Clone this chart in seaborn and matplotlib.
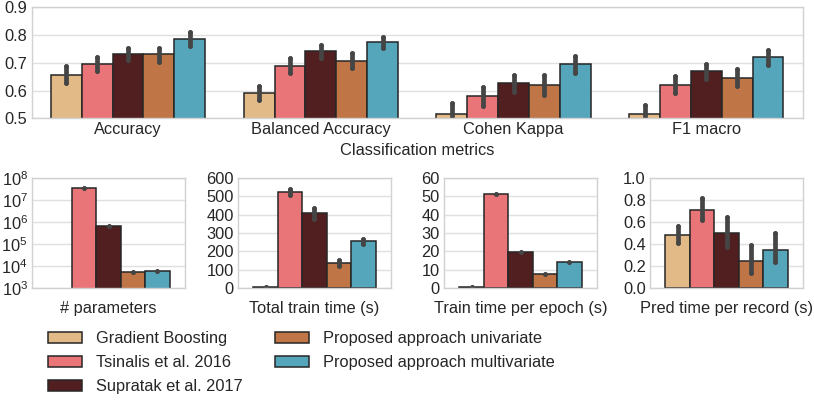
import numpy as np
import pandas as pd
import matplotlib
matplotlib.use("Agg")
import matplotlib.pyplot as plt
import seaborn as sns

# ---------------- data ----------------
models = ["Gradient Boosting", "Tsinalis et al. 2016", "Supratak et al. 2017",
          "Proposed approach univariate", "Proposed approach multivariate"]
colors = ["#e2ba88", "#ea7579", "#521f20", "#c07547", "#55a5bb"]

clf_metrics = ["Accuracy", "Balanced Accuracy", "Cohen Kappa", "F1 macro"]
# rows: metric, columns: model
clf_mean = [[0.655, 0.697, 0.732, 0.731, 0.786],
            [0.591, 0.690, 0.741, 0.708, 0.775],
            [0.517, 0.579, 0.627, 0.620, 0.696],
            [0.517, 0.620, 0.671, 0.647, 0.720]]
clf_lo = [[0.626, 0.672, 0.710, 0.704, 0.762],
          [0.566, 0.662, 0.719, 0.680, 0.752],
          [0.480, 0.544, 0.594, 0.584, 0.662],
          [0.490, 0.590, 0.642, 0.617, 0.691]]
clf_hi = [[0.689, 0.722, 0.752, 0.755, 0.810],
          [0.617, 0.716, 0.764, 0.734, 0.794],
          [0.556, 0.612, 0.656, 0.656, 0.726],
          [0.548, 0.653, 0.695, 0.677, 0.746]]

cost_metrics = ["# parameters", "Total train time (s)",
                "Train time per epoch (s)", "Pred time per record (s)"]
n_params = [np.nan, 3.4e7, 6.6e5, 5.1e3, 5.7e3]
train_mean = [7, 524, 407, 137, 257]
train_lo = [7, 508, 376, 120, 241]
train_hi = [7, 540, 435, 154, 269]
epoch_mean = [0.3, 51.3, 19.5, 7.6, 14.3]
pred_mean = [0.482, 0.708, 0.497, 0.250, 0.349]
pred_lo = [0.413, 0.614, 0.377, 0.136, 0.232]
pred_hi = [0.563, 0.819, 0.648, 0.389, 0.497]

cost_yticks = [[1e3, 1e4, 1e5, 1e6, 1e7, 1e8],
               [0, 100, 200, 300, 400, 500, 600],
               [0, 10, 20, 30, 40, 50, 60],
               [0.0, 0.2, 0.4, 0.6, 0.8, 1.0]]


def long_df(cats, mean, lo, hi):
    rows = []
    for c, m, l, h in zip(cats, mean, lo, hi):
        for model, mv, lv, hv in zip(models, m, l, h):
            for v in (lv, mv, hv):
                rows.append({"metric": c, "model": model, "value": v})
    return pd.DataFrame(rows).dropna()


# ---------------- style ----------------
sns.set_theme(style="whitegrid")
FS = 11.8
plt.rcParams["font.family"] = ["Liberation Sans", "DejaVu Sans"]
plt.rcParams.update({
    "font.size": FS, "axes.labelsize": FS, "xtick.labelsize": FS,
    "ytick.labelsize": FS, "legend.fontsize": FS,
    "axes.edgecolor": "0.82", "grid.color": "0.88", "axes.linewidth": 1.0,
    "grid.linewidth": 1.0, "xtick.major.size": 0, "ytick.major.size": 0,
    "xtick.major.pad": 2.8, "ytick.major.pad": 3.0,
})

ERR_LW = 3.4
bar_kw = dict(x="metric", y="value", hue="model", hue_order=models,
              palette=colors, saturation=1, estimator="median",
              errorbar=("pi", 100),
              err_kws={"color": "0.27", "linewidth": ERR_LW,
                       "solid_capstyle": "round", "marker": "o",
                       "markersize": ERR_LW, "markeredgewidth": 0},
              edgecolor="0.15", linewidth=1.1)

W, H = 814, 401
fig = plt.figure(figsize=(W / 100, H / 100), dpi=100)

# ---- top panel ----
ax_top = fig.add_axes([31.7 / W, 1 - 118.3 / H, (802.7 - 31.7) / W, 111 / H])
df_top = long_df(clf_metrics, clf_mean, clf_lo, clf_hi)
sns.barplot(data=df_top, order=clf_metrics, ax=ax_top, legend=True, **bar_kw)
ax_top.set_ylim(0.5, 0.9)
ax_top.set_yticks([0.5, 0.6, 0.7, 0.8, 0.9])
ax_top.set_xlabel("Classification metrics", labelpad=4.5)
ax_top.set_ylabel("")
handles, labels = ax_top.get_legend_handles_labels()
ax_top.get_legend().remove()

# ---- bottom panels ----
lefts = [32, 238, 444, 650]
cost_mean = [n_params, train_mean, epoch_mean, pred_mean]
cost_lo = [n_params, train_lo, epoch_mean, pred_lo]
cost_hi = [n_params, train_hi, epoch_mean, pred_hi]
for i, name in enumerate(cost_metrics):
    ax = fig.add_axes([lefts[i] / W, 1 - 288 / H, 153 / W, 110 / H])
    if i == 0:
        ax.set_yscale("log")
    df = long_df([name], [cost_mean[i]], [cost_lo[i]], [cost_hi[i]])
    sns.barplot(data=df, order=[name], ax=ax, legend=False, **bar_kw)
    ax.set_ylim(cost_yticks[i][0], cost_yticks[i][-1])
    ax.set_yticks(cost_yticks[i])
    ax.minorticks_off()
    ax.tick_params(axis="x", labelbottom=False)
    ax.set_ylabel("")
    ax.set_xlabel(name)
    ax.xaxis.set_label_coords(0.5, -0.115)

fig.legend(handles, labels, loc="upper left",
           bbox_to_anchor=(48 / W, 1 - 331 / H), ncol=2, frameon=False,
           borderpad=0, borderaxespad=0, handlelength=2.05, handleheight=0.7,
           handletextpad=0.85, labelspacing=0.56, columnspacing=2.0,
           fontsize=FS)

fig.savefig("out.png", dpi=100)
